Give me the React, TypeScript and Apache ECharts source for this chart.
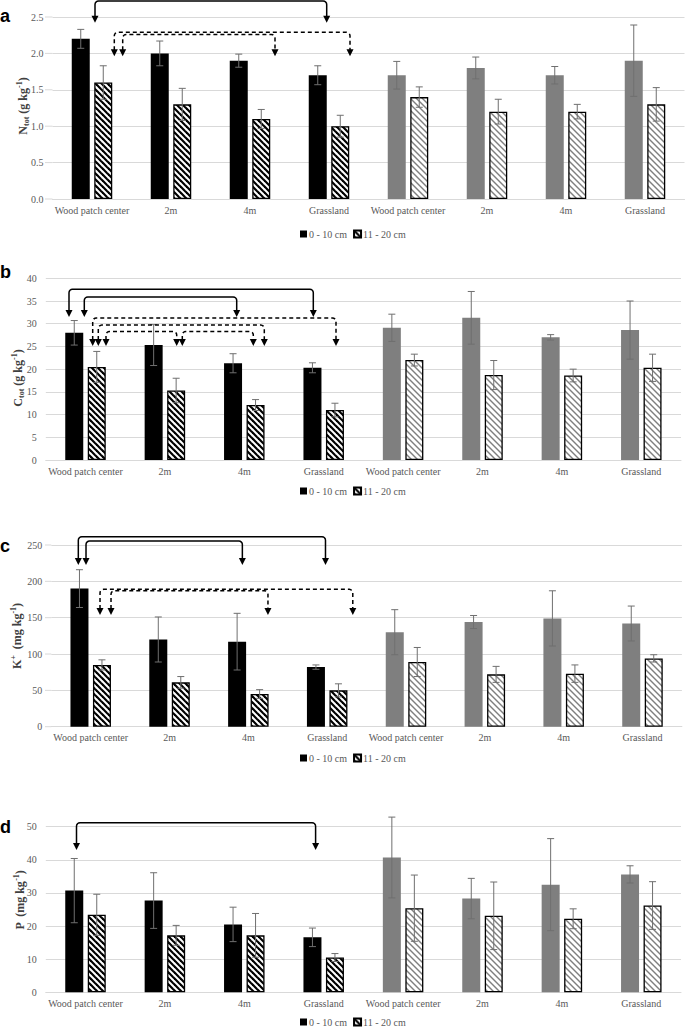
import React, { useEffect, useRef } from "react";
import * as echarts from "echarts";

// ---------- data ----------
const categories = ["Wood patch center", "2m", "4m", "Grassland", "Wood patch center", "2m", "4m", "Grassland"];
const depthNames = ["0 - 10 cm", "11 - 20 cm"];

// a: N_tot (g kg-1)
const nTop = [2.2, 2.0, 1.9, 1.7, 1.7, 1.8, 1.7, 1.9];
const nTopErr = [0.13, 0.17, 0.09, 0.13, 0.19, 0.15, 0.12, 0.49];
const nSub = [1.6, 1.3, 1.1, 1.0, 1.4, 1.2, 1.2, 1.3];
const nSubErr = [0.23, 0.22, 0.13, 0.15, 0.14, 0.17, 0.1, 0.23];

// b: C_tot (g kg-1)
const cTop = [28.0, 25.3, 21.3, 20.3, 29.1, 31.3, 27.0, 28.6];
const cTopErr = [2.7, 4.5, 2.1, 1.1, 3.0, 5.8, 0.6, 6.4];
const cSub = [20.5, 15.3, 12.1, 11.0, 22.0, 18.7, 18.6, 20.3];
const cSubErr = [3.4, 2.7, 1.2, 1.5, 1.3, 3.2, 1.4, 3.0];

// c: K+ (mg kg-1)
const kTop = [190, 120, 117, 82, 130, 144, 149, 142];
const kTopErr = [26, 31, 39, 3, 31, 9, 38, 24];
const kSub = [85, 61, 45, 50, 89, 72, 73, 94];
const kSubErr = [7, 8, 6, 9, 20, 11, 12, 5];

// d: P (mg kg-1)
const pTop = [30.7, 27.7, 20.5, 16.6, 40.7, 28.3, 32.5, 35.6];
const pTopErr = [9.7, 8.4, 5.2, 2.8, 12.2, 6.1, 13.9, 2.6];
const pSub = [23.4, 17.2, 17.2, 10.5, 25.4, 23.1, 22.2, 26.2];
const pSubErr = [6.2, 3.0, 6.6, 1.2, 10.0, 10.2, 3.0, 7.2];

// y-axis ticks: [max, interval, decimals]
const ticksA = [2.5, 0.5, 1];
const ticksB = [40, 5, 0];
const ticksC = [250, 50, 0];
const ticksD = [50, 10, 0];

// significance brackets: [fromCat, fromDx(px), toCat, toDx(px), lineValue, tipValue, dashed]
const bracketsA = [
  [0, 3, 3, -2.3, 2.72, 2.42, 0],
  [0, 22.3, 3, 21, 2.29, 1.96, 1],
  [0, 30.7, 2, 25, 2.26, 1.96, 1],
];
const bracketsB = [
  [0, -16.5, 3, -10.4, 37.6, 31.5, 0],
  [0, -1.2, 2, -7.6, 35.9, 31.5, 0],
  [0, 7.2, 3, 12.3, 31.26, 25.1, 1],
  [0, 12.8, 2, 20, 29.7, 25.1, 1],
  [0, 20.5, 1, 11.8, 28.3, 25.1, 1],
  [1, 17.4, 2, 9, 28.3, 25.1, 1],
];
const bracketsC = [
  [0, -12.4, 3, -1.7, 261.4, 222.5, 0],
  [0, -4.7, 2, -6, 255.5, 222.5, 0],
  [0, 9.3, 3, 25.6, 189, 153.7, 1],
  [0, 20.3, 2, 19.6, 187.1, 153.7, 1],
];
const bracketsD = [[0, -9, 3, -8.1, 51.2, 43, 0]];

// ---------- layout / style ----------
const W = 685;
const H = 1029;
const BAR_W = 18;
const BAR_GAP = 0.25;
const GRID_LINE_START = 45;
const SERIF = "Liberation Serif";
const LABEL = "#595959";
const GRID = "#d9d9d9";

const panels = [
  {
    letter: "a", name: "{b|N}{sub|tot}{b| (g kg}{sup|-1}{b|)}", ticks: ticksA,
    v0: nTop, e0: nTopErr, v1: nSub, e1: nSubErr, brackets: bracketsA,
    grid: { left: 52.5, top: 17, width: 632, height: 182 }, namePos: [23, 106], legendTop: 224, letterY: 25,
  },
  {
    letter: "b", name: "{b|C}{sub|tot}{b| (g kg}{sup|-1}{b|)}", ticks: ticksB,
    v0: cTop, e0: cTopErr, v1: cSub, e1: cSubErr, brackets: bracketsB,
    grid: { left: 45.8, top: 278.3, width: 635.2, height: 181.7 }, namePos: [18, 378], legendTop: 481, letterY: 281,
  },
  {
    letter: "c", name: "{b|K}{sup|+}{b|  (mg kg}{sup|-1}{b|)}", ticks: ticksC,
    v0: kTop, e0: kTopErr, v1: kSub, e1: kSubErr, brackets: bracketsC,
    grid: { left: 51.3, top: 545, width: 630.6, height: 181.7 }, namePos: [17, 636], legendTop: 748, letterY: 555,
  },
  {
    letter: "d", name: "{b|P  (mg kg}{sup|-1}{b|)}", ticks: ticksD,
    v0: pTop, e0: pTopErr, v1: pSub, e1: pSubErr, brackets: bracketsD,
    grid: { left: 45.8, top: 826.7, width: 635.2, height: 165.6 }, namePos: [20, 900], legendTop: 1012, letterY: 836,
  },
];

const nameRich = {
  b: { fontFamily: SERIF, fontSize: 12, fontWeight: "bold", fill: "#404040", lineHeight: 15 },
  sub: { fontFamily: SERIF, fontSize: 8, fontWeight: "bold", fill: "#404040", verticalAlign: "bottom", lineHeight: 15 },
  sup: { fontFamily: SERIF, fontSize: 8, fontWeight: "bold", fill: "#404040", verticalAlign: "top", lineHeight: 15 },
};

function makeHatch(color: string, lw: number, size: number) {
  const c = document.createElement("canvas");
  c.width = size;
  c.height = size;
  const ctx = c.getContext("2d")!;
  ctx.fillStyle = "#ffffff";
  ctx.fillRect(0, 0, size, size);
  ctx.strokeStyle = color;
  ctx.lineWidth = lw;
  ctx.lineCap = "square";
  for (const k of [-size, 0, size]) {
    ctx.beginPath();
    ctx.moveTo(k, 0);
    ctx.lineTo(k + size, size);
    ctx.stroke();
  }
  return c;
}

function bracketPoints(x1: number, x2: number, yLine: number, yEnd: number, r: number) {
  const pts: number[][] = [[x1, yEnd]];
  for (let k = 0; k <= 4; k++) {
    const a = Math.PI - (k / 4) * (Math.PI / 2);
    pts.push([x1 + r + r * Math.cos(a), yLine + r - r * Math.sin(a)]);
  }
  for (let k = 0; k <= 4; k++) {
    const a = Math.PI / 2 - (k / 4) * (Math.PI / 2);
    pts.push([x2 - r + r * Math.cos(a), yLine + r - r * Math.sin(a)]);
  }
  pts.push([x2, yEnd]);
  return pts;
}

export default function App() {
  const ref = useRef<HTMLDivElement>(null);

  useEffect(() => {
    document.body.style.margin = "0";
    if (!ref.current) return;
    const chart = echarts.init(ref.current, null, { renderer: "svg", width: W, height: H });

    const hatchBlack = { image: makeHatch("#000000", 2.2, 6), repeat: "repeat" };
    const hatchGray = { image: makeHatch("#7f7f7f", 1.4, 6), repeat: "repeat" };
    const offset = (BAR_W + BAR_W * BAR_GAP) / 2;

    const grids: any[] = [];
    const xAxes: any[] = [];
    const yAxes: any[] = [];
    const series: any[] = [];
    const legends: any[] = [];

    const errSeries = (i: number, vals: number[], errs: number[], dx: number) => ({
      type: "custom",
      xAxisIndex: i,
      yAxisIndex: i,
      z: 5,
      silent: true,
      data: vals.map((v, j) => [j, v - errs[j], v + errs[j]]),
      encode: { x: 0, y: [1, 2] },
      renderItem: (params: any, api: any) => {
        const c = api.value(0);
        const lo = api.coord([c, api.value(1)]);
        const hi = api.coord([c, api.value(2)]);
        const x = lo[0] + dx;
        const st = { stroke: "#6f6f6f", lineWidth: 1 };
        return {
          type: "group",
          children: [
            { type: "line", shape: { x1: x, y1: hi[1], x2: x, y2: lo[1] }, style: st },
            { type: "line", shape: { x1: x - 3.5, y1: hi[1], x2: x + 3.5, y2: hi[1] }, style: st },
            { type: "line", shape: { x1: x - 3.5, y1: lo[1], x2: x + 3.5, y2: lo[1] }, style: st },
          ],
        };
      },
    });

    panels.forEach((p, i) => {
      grids.push({ ...p.grid, containLabel: false });
      xAxes.push({
        type: "category",
        gridIndex: i,
        data: categories,
        axisTick: { show: false },
        axisLine: { lineStyle: { color: GRID, width: 1 } },
        axisLabel: { color: LABEL, fontFamily: SERIF, fontSize: 10, margin: 6, interval: 0 },
      });
      yAxes.push({
        type: "value",
        gridIndex: i,
        min: 0,
        max: p.ticks[0],
        interval: p.ticks[1],
        axisLine: { show: false },
        axisTick: { show: false },
        splitLine: { lineStyle: { color: GRID, width: 1 } },
        axisLabel: {
          color: LABEL, fontFamily: SERIF, fontSize: 10, margin: 9,
          formatter: (v: number) => v.toFixed(p.ticks[2]),
        },
      });
      series.push({
        name: depthNames[0],
        type: "bar",
        xAxisIndex: i,
        yAxisIndex: i,
        barWidth: BAR_W,
        barGap: BAR_GAP * 100 + "%",
        itemStyle: { color: "#000000" },
        data: p.v0.map((v, j) => (j < 4 ? v : { value: v, itemStyle: { color: "#7f7f7f" } })),
      });
      series.push({
        name: depthNames[1],
        type: "bar",
        xAxisIndex: i,
        yAxisIndex: i,
        barWidth: BAR_W,
        barGap: BAR_GAP * 100 + "%",
        itemStyle: { color: hatchBlack, borderColor: "#000000", borderWidth: 1.3 },
        data: p.v1.map((v, j) => (j < 4 ? v : { value: v, itemStyle: { color: hatchGray } })),
      });
      series.push(errSeries(i, p.v0, p.e0, -offset));
      series.push(errSeries(i, p.v1, p.e1, offset));
      legends.push({
        data: depthNames,
        left: 295,
        top: p.legendTop,
        itemWidth: 7,
        itemHeight: 7,
        itemGap: 6,
        icon: "rect",
        selectedMode: false,
        textStyle: { fontFamily: SERIF, fontSize: 10, color: LABEL, padding: [0, 0, 0, -3] },
      });
    });

    chart.setOption({
      animation: false,
      backgroundColor: "#ffffff",
      grid: grids,
      xAxis: xAxes,
      yAxis: yAxes,
      legend: legends,
      series,
    });

    const graphics: any[] = [];
    panels.forEach((p, i) => {
      const conv = (cat: number, val: number) =>
        chart.convertToPixel({ gridIndex: i } as any, [cat, val]) as number[];

      // gridline stubs to the left of the category band
      for (let v = 0; v <= p.ticks[0] + 1e-9; v += p.ticks[1]) {
        const y = conv(0, v)[1];
        if (p.grid.left - GRID_LINE_START > 1) {
          graphics.push({
            type: "line",
            shape: { x1: GRID_LINE_START, y1: y, x2: p.grid.left, y2: y },
            style: { stroke: GRID, lineWidth: 1 },
            z: 0,
          });
        }
      }

      graphics.push({
        type: "text",
        x: 0,
        y: p.letterY,
        style: {
          text: p.letter,
          font: "bold 18px 'Liberation Sans', Arial, sans-serif",
          fill: "#000",
          textVerticalAlign: "bottom",
        },
      });
      graphics.push({
        type: "text",
        x: p.namePos[0],
        y: p.namePos[1],
        rotation: Math.PI / 2,
        style: {
          text: p.name,
          rich: nameRich,
          align: "center",
          verticalAlign: "middle",
        },
      });
      p.brackets.forEach((b) => {
        const x1 = conv(b[0], 0)[0] + b[1];
        const x2 = conv(b[2], 0)[0] + b[3];
        const yLine = conv(0, b[4])[1];
        const yTip = conv(0, b[5])[1];
        const dashed = !!b[6];
        const ah = 7;
        graphics.push({
          type: "polyline",
          shape: { points: bracketPoints(x1, x2, yLine, yTip - ah + 1, 3.5) },
          style: {
            stroke: "#000",
            fill: null,
            lineWidth: 1.5,
            lineDash: dashed ? [4, 3] : null,
          },
          z: 10,
        });
        for (const x of [x1, x2]) {
          graphics.push({
            type: "polygon",
            shape: { points: [[x - 3.5, yTip - ah], [x + 3.5, yTip - ah], [x, yTip]] },
            style: { fill: "#000" },
            z: 10,
          });
        }
      });
    });

    chart.setOption({ graphic: graphics });

    return () => chart.dispose();
  }, []);

  return <div ref={ref} style={{ width: W, height: H }} />;
}
